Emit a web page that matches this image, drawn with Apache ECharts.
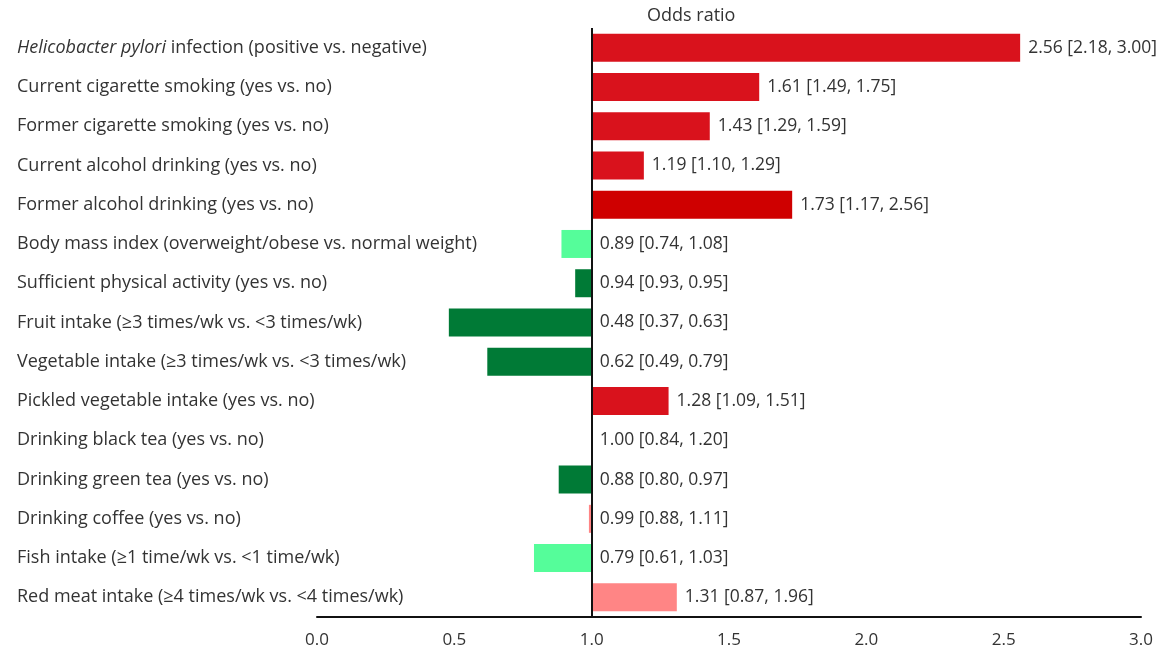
<!DOCTYPE html>
<html>
<head>
<meta charset="utf-8">
<script src="https://cdn.jsdelivr.net/npm/echarts@6/dist/echarts.min.js"></script>
<style>
  html, body { margin: 0; padding: 0; background: #fff; }
  #chart { width: 1163px; height: 653px; }
</style>
</head>
<body>
<div id="chart"></div>
<script>
// Risk factors (category labels, top to bottom)
const factors = [
  'Helicobacter pylori infection (positive vs. negative)',
  'Current cigarette smoking (yes vs. no)',
  'Former cigarette smoking (yes vs. no)',
  'Current alcohol drinking (yes vs. no)',
  'Former alcohol drinking (yes vs. no)',
  'Body mass index (overweight/obese vs. normal weight)',
  'Sufficient physical activity (yes vs. no)',
  'Fruit intake (\u22653 times/wk vs. <3 times/wk)',
  'Vegetable intake (\u22653 times/wk vs. <3 times/wk)',
  'Pickled vegetable intake (yes vs. no)',
  'Drinking black tea (yes vs. no)',
  'Drinking green tea (yes vs. no)',
  'Drinking coffee (yes vs. no)',
  'Fish intake (\u22651 time/wk vs. <1 time/wk)',
  'Red meat intake (\u22654 times/wk vs. <4 times/wk)'
];

// Odds ratios with 95% confidence bounds
const oddsRatio = [2.56, 1.61, 1.43, 1.19, 1.73, 0.89, 0.94, 0.48, 0.62, 1.28, 1.00, 0.88, 0.99, 0.79, 1.31];
const ciLower   = [2.18, 1.49, 1.29, 1.10, 1.17, 0.74, 0.93, 0.37, 0.49, 1.09, 0.84, 0.80, 0.88, 0.61, 0.87];
const ciUpper   = [3.00, 1.75, 1.59, 1.29, 2.56, 1.08, 0.95, 0.63, 0.79, 1.51, 1.20, 0.97, 1.11, 1.03, 1.96];

// Bar fill per factor
const barColors = [
  '#d9121c', '#d9121c', '#d9121c', '#d9121c', '#cf0000',
  '#55fd9a', '#007a36', '#007a36', '#007a36', '#d9121c',
  '#d9121c', '#007a36', '#ff8585', '#55fd9a', '#ff8585'
];

// X axis tick values
const xTicks = [0.0, 0.5, 1.0, 1.5, 2.0, 2.5, 3.0];

const REF = 1.0;
const FONT = '"Open Sans", "Noto Sans", sans-serif';
const TXT = '#333333';
const CAT_SIZE = 18;
const VAL_SIZE = 17.5;

const baseData = oddsRatio.map(v => Math.min(v, REF));
const spanData = oddsRatio.map((v, i) => ({
  value: Math.abs(v - REF),
  itemStyle: { color: barColors[i] }
}));

const fmt = v => v.toFixed(2);

const chart = echarts.init(document.getElementById('chart'), null, { renderer: 'canvas' });

chart.setOption({
  animation: false,
  backgroundColor: '#ffffff',
  title: {
    text: 'Odds ratio',
    left: 642,
    top: 2,
    textStyle: { fontFamily: FONT, fontSize: CAT_SIZE, fontWeight: 'normal', color: TXT }
  },
  grid: { left: 317, right: 22, top: 28, bottom: 36, containLabel: false },
  xAxis: {
    type: 'value',
    min: xTicks[0],
    max: xTicks[xTicks.length - 1],
    interval: 0.5,
    axisLine: { show: true, lineStyle: { color: '#111', width: 2 } },
    axisTick: { show: false },
    splitLine: { show: false },
    axisLabel: {
      margin: 15,
      fontFamily: FONT, fontSize: 17, color: TXT,
      formatter: v => v.toFixed(1)
    }
  },
  yAxis: {
    type: 'category',
    data: factors,
    inverse: true,
    axisLine: { show: false },
    axisTick: { show: false },
    axisLabel: {
      align: 'left',
      margin: 300,
      fontFamily: FONT, fontSize: CAT_SIZE, color: TXT,
      formatter: v => v.startsWith('Helicobacter pylori')
        ? '{i|Helicobacter pylori}' + v.slice('Helicobacter pylori'.length)
        : v,
      rich: {
        i: { fontFamily: FONT, fontSize: CAT_SIZE, color: TXT, fontStyle: 'italic' }
      }
    }
  },
  series: [
    {
      name: 'base',
      type: 'bar',
      stack: 'or',
      barWidth: 28,
      itemStyle: { color: 'transparent' },
      data: baseData,
      silent: true
    },
    {
      name: 'odds',
      type: 'bar',
      stack: 'or',
      barWidth: 28,
      data: spanData,
      label: {
        show: true,
        position: 'right',
        distance: 8,
        fontFamily: FONT, fontSize: VAL_SIZE, color: TXT,
        formatter: p => `${fmt(oddsRatio[p.dataIndex])} [${fmt(ciLower[p.dataIndex])}, ${fmt(ciUpper[p.dataIndex])}]`
      },
      markLine: {
        silent: true,
        symbol: 'none',
        label: { show: false },
        lineStyle: { color: '#111', width: 2, type: 'solid' },
        data: [{ xAxis: REF }]
      }
    }
  ]
});
</script>
</body>
</html>
